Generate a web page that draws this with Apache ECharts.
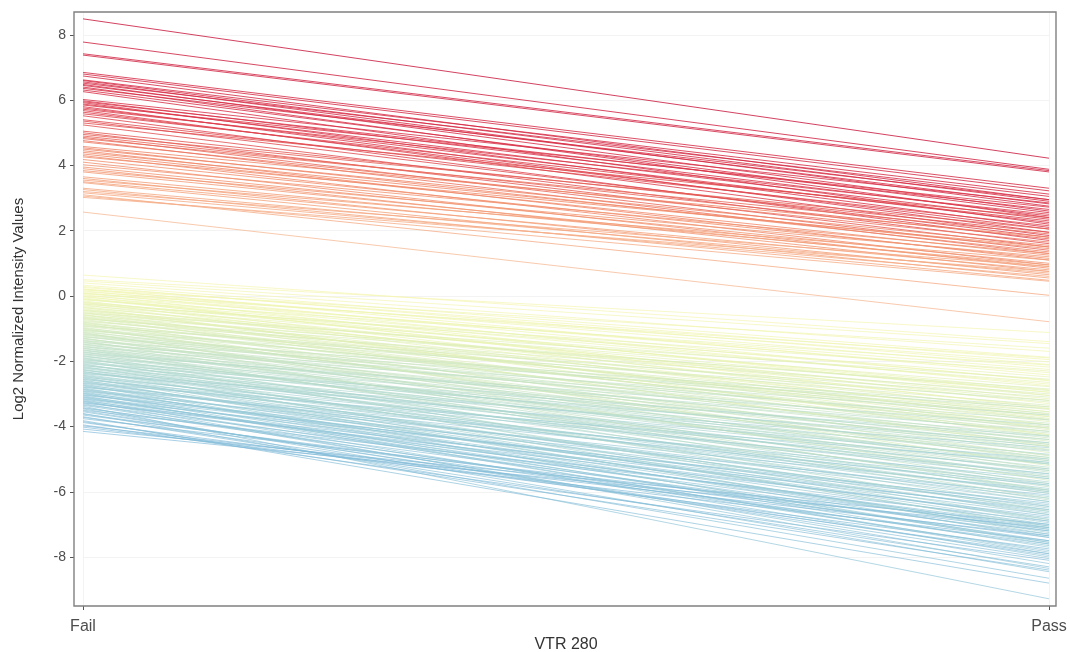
<!DOCTYPE html>
<html>
<head>
<meta charset="utf-8">
<script src="https://cdn.jsdelivr.net/npm/echarts@6/dist/echarts.min.js"></script>
<style>
html,body{margin:0;padding:0;background:#fff;}
#chart{width:1070px;height:652px;}
</style>
</head>
<body>
<div id="chart"></div>
<script>
// ---- data ----
var categories = ['Fail', 'Pass'];
var yTicks = [-8, -6, -4, -2, 0, 2, 4, 6, 8];
var xName = 'VTR 280';
var yName = 'Log2 Normalized Intensity Values';

// upper (high intensity) group: value at Fail, value at Pass
var upperFail = [8.49,7.78,7.42,7.38,
  6.85,6.80,6.74,6.62,6.60,6.56,6.52,6.48,6.45,6.40,6.36,6.31,6.26,
  6.02,5.98,5.95,5.92,5.88,5.85,5.80,5.76,5.72,5.68,5.63,5.58,5.52,
  5.40,5.36,5.30,5.24,5.05,5.00,4.95,4.90,4.86,4.82,4.76,4.72,
  4.58,4.54,4.50,4.45,4.40,4.35,4.30,4.26,4.18,4.10,4.02,3.95,3.90,3.84,3.80,
  3.65,3.60,3.55,3.50,3.47,3.30,3.26,3.20,3.16,3.10,3.06,3.02,
  2.57];
var upperPass = [4.22,3.88,3.84,3.80,
  3.30,3.22,2.95,3.12,2.90,2.75,3.05,2.60,2.82,2.40,2.95,2.55,2.20,
  2.85,2.45,2.65,2.10,2.35,2.72,1.95,2.25,2.50,1.85,2.05,2.30,1.70,
  2.15,1.80,2.40,1.60,1.95,1.50,2.05,1.75,1.40,1.90,1.30,1.65,
  1.80,1.35,1.55,1.10,1.45,1.25,0.95,1.50,1.15,0.85,1.30,1.00,0.75,1.20,0.90,
  0.95,0.65,1.10,0.80,0.55,0.70,0.48,0.90,0.60,0.02,0.45,0.75,
  -0.79];

// lower (low intensity) group: value at Fail, value at Pass
var lowerFail = [0.64,0.50,0.46,0.33,0.29,0.26,0.22,0.19,0.16,0.13,0.10,0.07,0.04,0.01,
  -0.03,-0.06,-0.09,-0.12,-0.15,-0.18,-0.21,-0.24,-0.27,-0.30,-0.33,-0.36,-0.39,-0.42,-0.45,-0.48,
  -0.51,-0.54,-0.57,-0.60,-0.63,-0.66,-0.69,-0.72,-0.75,-0.78,-0.81,-0.84,-0.87,-0.90,-0.93,-0.96,-0.99,
  -1.02,-1.05,-1.08,-1.11,-1.14,-1.17,-1.20,-1.23,-1.26,-1.29,-1.32,-1.35,-1.38,-1.41,-1.44,-1.47,
  -1.50,-1.53,-1.56,-1.59,-1.62,-1.65,-1.68,-1.71,-1.74,-1.77,-1.80,-1.83,-1.86,-1.89,-1.92,-1.95,-1.98,
  -2.01,-2.04,-2.07,-2.10,-2.13,-2.16,-2.19,-2.22,-2.25,-2.28,-2.31,-2.34,-2.37,-2.40,-2.43,-2.46,-2.49,
  -2.52,-2.55,-2.58,-2.61,-2.64,-2.67,-2.70,-2.73,-2.76,-2.79,-2.82,-2.85,-2.88,-2.91,-2.94,-2.97,
  -3.00,-3.03,-3.06,-3.09,-3.12,-3.15,-3.18,-3.21,-3.24,-3.27,-3.30,-3.33,-3.38,-3.42,-3.46,-3.50,
  -3.55,-3.60,-3.65,-3.70,-3.76,-3.82,-3.88,-3.95,-4.02,-4.08,-4.15,
  0.40,0.20,0.08,-0.01,-0.10,-0.20,-0.25,-0.35,-0.44,-0.52,-0.58,-0.65,-0.70,-0.80,-0.85,-0.92,
  -1.00,-1.06,-1.12,-1.18,-1.25,-1.30,-1.37,-1.42,-1.48,-1.55,-1.60,-1.66,-1.72,-1.78,-1.84,-1.90,-1.96,
  -2.02,-2.08,-2.14,-2.20,-2.26,-2.32,-2.38,-2.44,-2.50,-2.56,-2.62,-2.68,-2.74,-2.80,-2.86,-2.92,-2.98,
  -3.04,-3.10,-3.16,-3.22,-3.28,-3.35,-3.44,-3.52,-3.62,-3.72,-3.85,-3.98];
var lowerPass = [-1.40,-1.12,-1.46,-1.88,-2.10,-1.95,-2.42,-2.18,-2.60,-2.02,-2.75,-2.35,-3.05,-2.25,
  -2.58,-3.30,-2.70,-2.12,-3.55,-2.88,-2.48,-3.15,-3.80,-2.65,-3.40,-2.95,-4.05,-3.20,-2.78,-3.62,
  -4.30,-3.05,-3.85,-2.90,-3.48,-4.55,-3.25,-4.10,-3.70,-3.00,-4.80,-3.55,-4.25,-3.35,-3.95,-5.05,-3.78,
  -4.45,-3.20,-4.70,-4.00,-5.30,-3.65,-4.35,-4.95,-3.90,-5.55,-4.20,-4.62,-3.45,-5.15,-4.05,-5.75,
  -4.50,-4.88,-3.80,-5.40,-4.28,-6.00,-4.72,-5.10,-4.15,-5.60,-4.95,-6.25,-4.40,-5.25,-5.80,-4.60,-6.45,
  -5.05,-5.50,-4.30,-6.05,-5.35,-6.70,-4.85,-5.70,-6.30,-5.15,-6.90,-5.55,-4.65,-6.15,-5.90,-7.05,-5.30,
  -6.50,-6.00,-7.25,-5.75,-6.65,-5.10,-7.40,-6.20,-6.85,-5.60,-7.55,-6.40,-7.00,-5.95,-7.70,-6.60,
  -7.20,-6.10,-7.85,-6.80,-7.35,-6.35,-8.00,-7.05,-7.50,-6.55,-8.20,-7.15,-9.28,-7.65,-8.45,-6.90,
  -7.95,-8.65,-7.40,-8.30,-7.20,-8.80,-7.75,-8.10,-7.50,-7.00,-7.10,
  -1.70,-1.60,-1.90,-3.45,-2.95,-3.70,-2.30,-4.25,-3.95,-2.55,-4.60,-3.75,-2.85,-4.05,-5.20,-3.10,
  -4.90,-3.60,-5.65,-4.15,-3.40,-5.00,-5.95,-4.40,-3.65,-5.35,-6.20,-4.55,-5.85,-3.95,-5.15,-6.60,-4.75,
  -5.95,-6.85,-4.50,-5.45,-7.10,-6.05,-5.00,-6.55,-7.30,-5.45,-6.95,-6.30,-7.60,-5.80,-7.15,-6.70,-7.90,
  -6.45,-7.55,-7.10,-8.35,-6.75,-7.80,-7.30,-8.05,-7.60,-7.90,-8.40,-7.35];

// ---- colour scale (by value at Fail) ----
var colorStops = [
  [-4.2, [125,184,216]],
  [-3.0, [148,200,216]],
  [-2.0, [179,217,207]],
  [-1.0, [211,233,189]],
  [0.0,  [238,245,176]],
  [0.7,  [246,244,174]],
  [2.5,  [246,190,156]],
  [3.5,  [244,161,122]],
  [4.6,  [239,130,100]],
  [5.0,  [228,88,82]],
  [6.0,  [217,47,69]],
  [8.5,  [200,20,58]]
];
function colorFor(v) {
  if (v <= colorStops[0][0]) return 'rgb(' + colorStops[0][1].join(',') + ')';
  for (var i = 1; i < colorStops.length; i++) {
    if (v <= colorStops[i][0]) {
      var a = colorStops[i-1], b = colorStops[i];
      var t = (v - a[0]) / (b[0] - a[0]);
      var c = a[1].map(function (x, k) { return Math.round(x + (b[1][k] - x) * t); });
      return 'rgb(' + c.join(',') + ')';
    }
  }
  return 'rgb(' + colorStops[colorStops.length-1][1].join(',') + ')';
}

var series = [];
function addLines(fails, passes, opacity, width) {
  for (var i = 0; i < fails.length; i++) {
    series.push({
      type: 'line',
      data: [fails[i], passes[i]],
      symbol: 'none',
      showSymbol: false,
      silent: true,
      animation: false,
      lineStyle: { color: colorFor(fails[i]), width: width, opacity: opacity }
    });
  }
}
addLines(lowerFail, lowerPass, 0.75, 0.9);
addLines(upperFail, upperPass, 0.9, 0.9);

var font = "'Liberation Sans', Arial, sans-serif";
var chart = echarts.init(document.getElementById('chart'), null, { renderer: 'canvas' });
chart.setOption({
  backgroundColor: '#ffffff',
  animation: false,
  grid: { left: 83, right: 21, top: 12, bottom: 46, containLabel: false, outerBoundsMode: 'none' },
  xAxis: {
    type: 'category',
    data: categories,
    boundaryGap: false,
    name: xName,
    nameLocation: 'middle',
    nameGap: 31,
    nameMoveOverlap: false,
    nameTextStyle: { fontFamily: font, fontSize: 16, color: '#333333' },
    axisLine: { show: false, onZero: false },
    axisTick: { show: true, length: 4, lineStyle: { color: '#555555', width: 1 } },
    axisLabel: { fontFamily: font, fontSize: 16, color: '#4d4d4d', margin: 13 },
    splitLine: { show: true, lineStyle: { color: '#f0f0f0', width: 0.8 } }
  },
  yAxis: {
    type: 'value',
    min: -9.5,
    max: 8.7,
    offset: 9,
    name: yName,
    nameLocation: 'middle',
    nameGap: 48,
    nameRotate: 90,
    nameTextStyle: { fontFamily: font, fontSize: 15, color: '#333333' },
    axisLine: { show: false, onZero: false },
    axisTick: { show: true, length: 4, customValues: yTicks, lineStyle: { color: '#555555', width: 1 } },
    axisLabel: { fontFamily: font, fontSize: 14, color: '#4d4d4d', margin: 8, customValues: yTicks },
    splitLine: { show: true, lineStyle: { color: '#f0f0f0', width: 0.8 } }
  },
  graphic: [{
    type: 'rect',
    z: 100,
    silent: true,
    shape: { x: 74, y: 12, width: 982, height: 594 },
    style: { fill: 'none', stroke: '#808080', lineWidth: 1.4 }
  }],
  series: series
});
</script>
</body>
</html>
